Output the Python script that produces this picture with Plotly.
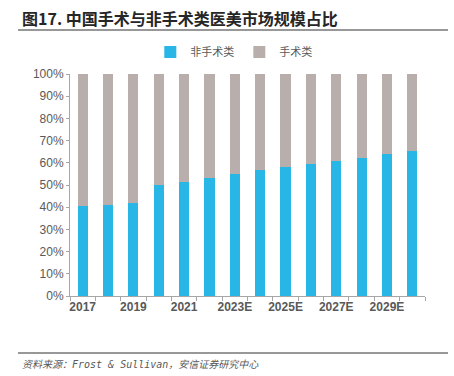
import plotly.graph_objects as go

years = ["2017", "2018", "2019", "2020", "2021", "2022", "2023E", "2024E",
         "2025E", "2026E", "2027E", "2028E", "2029E", "2030E"]
non_surgical = [40.4, 41.0, 41.8, 49.9, 51.5, 53.3, 54.9, 56.6, 58.1, 59.6, 60.9, 62.3, 63.8, 65.3]
surgical = [round(100 - v, 1) for v in non_surgical]
tick_labels = ["<b>%s</b>" % y if i % 2 == 0 else "" for i, y in enumerate(years)]

fig = go.Figure()
fig.add_bar(x=years, y=non_surgical, name="非手术类", marker_color="#27B6E6",
            width=0.4, marker_line_width=0)
fig.add_bar(x=years, y=surgical, name="手术类", marker_color="#B8AFAD",
            width=0.4, marker_line_width=0)

fig.update_layout(
    barmode="stack",
    width=454, height=376,
    margin=dict(l=70, r=29, t=74, b=80, autoexpand=False),
    paper_bgcolor="white", plot_bgcolor="white",
    font=dict(family="Liberation Sans, Arial, sans-serif", color="#595959", size=12),
    showlegend=True,
    legend=dict(orientation="h", x=0.515, xanchor="center", xref="container",
                yref="container", y=1 - 52 / 376, yanchor="middle",
                font=dict(family="Noto Sans CJK SC", size=11, color="#595959"),
                traceorder="normal", itemwidth=30),
    xaxis=dict(type="category", tickmode="array", tickvals=years, ticktext=tick_labels,
               tickson="boundaries", ticks="outside", ticklen=4, tickcolor="#A6A6A6",
               tickangle=0, automargin=False,
               showline=True, linecolor="#A6A6A6", linewidth=1, showgrid=False,
               tickfont=dict(size=12, color="#595959", family="Liberation Sans, Arial"),
               ),
    yaxis=dict(range=[0, 100], dtick=10, ticksuffix="%", ticks="outside", ticklen=3,
               tickcolor="#A6A6A6", showline=True, linecolor="#A6A6A6", linewidth=1,
               showgrid=False, zeroline=False, automargin=False,
               tickfont=dict(size=12, color="#595959")),
)

fig.add_annotation(text="<b>图17. 中国手术与非手术类医美市场规模占比</b>", xref="paper", yref="paper",
                   x=(20 - 70) / 355, y=(296 - 18) / 222, xanchor="left", yanchor="middle",
                   showarrow=False, font=dict(family="Noto Sans CJK SC", size=16, color="#262626"))
fig.add_shape(type="line", xref="paper", yref="paper",
              x0=(18 - 70) / 355, x1=(448 - 70) / 355,
              y0=(296 - 30) / 222, y1=(296 - 30) / 222,
              line=dict(color="#333333", width=1.2))
fig.add_shape(type="line", xref="paper", yref="paper",
              x0=(18 - 70) / 355, x1=(448 - 70) / 355,
              y0=(296 - 353) / 222, y1=(296 - 353) / 222,
              line=dict(color="#333333", width=1.2))
fig.add_annotation(text="<i>资料来源：Frost &amp; Sullivan，安信证券研究中心</i>", xref="paper", yref="paper",
                   x=(20 - 70) / 355, y=(296 - 364) / 222, xanchor="left", yanchor="middle",
                   showarrow=False, font=dict(family="DejaVu Sans Mono, Noto Sans CJK SC", size=10, color="#595959"))

fig.write_html("out.html", config={"displayModeBar": False},
               post_script="document.body.style.margin='0';document.body.style.overflow='hidden';")
